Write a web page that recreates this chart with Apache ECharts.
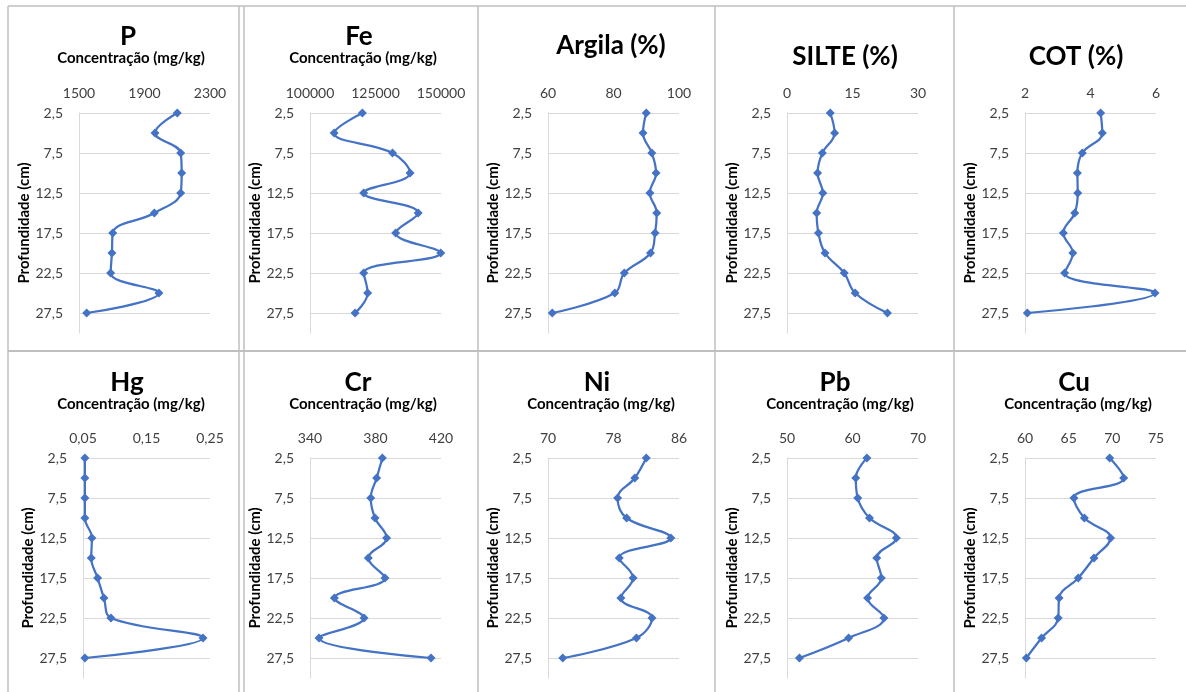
<!DOCTYPE html>
<html>
<head>
<meta charset="utf-8">
<script src="https://cdn.jsdelivr.net/npm/echarts@6/dist/echarts.min.js"></script>
<style>
html,body{margin:0;padding:0;background:#fff;}
#chart{width:1186px;height:692px;}
</style>
</head>
<body>
<div id="chart"></div>
<script>
// ---- data ----
const depths = [2.5, 5, 7.5, 10, 12.5, 15, 17.5, 20, 22.5, 25, 27.5];
const depthTicks = ['2,5', '7,5', '12,5', '17,5', '22,5', '27,5'];

const panelTitles = ['P', 'Fe', 'Argila (%)', 'SILTE (%)', 'COT (%)', 'Hg', 'Cr', 'Ni', 'Pb', 'Cu'];
const panelSubtitles = ['Concentração (mg/kg)', 'Concentração (mg/kg)', '', '', '',
  'Concentração (mg/kg)', 'Concentração (mg/kg)', 'Concentração (mg/kg)', 'Concentração (mg/kg)', 'Concentração (mg/kg)'];

const P      = [2100, 1964, 2121, 2127, 2121, 1960, 1706, 1701, 1693, 1988, 1547];
const Fe     = [120000, 109200, 131500, 138200, 120500, 141300, 132700, 149900, 120500, 122000, 117200];
const Argila = [90, 89, 91.7, 93, 91.1, 93.2, 92.7, 91.3, 83.3, 80.4, 61.3];
const Silte  = [9.9, 10.9, 8.1, 7.0, 8.2, 6.8, 7.2, 8.7, 13.1, 15.6, 23.0];
const COT    = [4.31, 4.36, 3.75, 3.6, 3.61, 3.52, 3.17, 3.46, 3.21, 5.97, 2.07];
const Hg     = [0.053, 0.053, 0.053, 0.053, 0.064, 0.063, 0.073, 0.083, 0.094, 0.239, 0.053];
const Cr     = [384.2, 380.7, 377.1, 379.7, 386.8, 375.6, 385.8, 354.9, 373, 345.5, 413.9];
const Ni     = [82, 80.6, 78.5, 79.6, 85.0, 78.7, 80.4, 78.9, 82.7, 80.8, 71.8];
const Pb     = [62.2, 60.5, 60.8, 62.6, 66.7, 63.7, 64.4, 62.3, 64.8, 59.4, 51.9];
const Cu     = [69.7, 71.3, 65.6, 66.8, 69.8, 67.9, 66.1, 63.9, 63.8, 61.9, 60.15];

const seriesValues = [P, Fe, Argila, Silte, COT, Hg, Cr, Ni, Pb, Cu];

// x-axis scales (tick labels)
const xMins      = [1500, 100000, 60, 0, 2, 0.05, 340, 70, 50, 60];
const xMaxs      = [2300, 150000, 100, 30, 6, 0.25, 420, 86, 70, 75];
const xIntervals = [400, 25000, 20, 15, 2, 0.1, 40, 8, 10, 5];

// ---- layout ----
const plotLeftsTop = [79, 310, 548, 787, 1025];
const plotLeftsBot = [83, 310, 548, 787, 1025];
const plotRight = [210, 441, 679, 918, 1156];
const titleCX = [128, 359, 611, 845, 1076, 127, 358, 597, 835, 1074];
const subCX = [131, 363, 0, 0, 0, 131, 363, 601, 840, 1078];

const FONT = 'Lato, "Open Sans", sans-serif';
const BLUE = '#4472C4';
const GRID = '#d9d9d9';

const grids = [], xAxes = [], yAxes = [], series = [], graphics = [];

function fmt(v) {
  const r = Math.round(v * 1000) / 1000;
  return String(r).replace('.', ',');
}

for (let i = 0; i < 10; i++) {
  const row = Math.floor(i / 5), col = i % 5;
  const left = row === 0 ? plotLeftsTop[col] : plotLeftsBot[col];
  const top = row === 0 ? 113 : 458;
  grids.push({ left: left, top: top, width: plotRight[col] - left, height: 220 });
  xAxes.push({
    type: 'value', gridIndex: i, position: 'top',
    min: xMins[i], max: xMaxs[i], interval: xIntervals[i],
    axisLine: { show: false }, axisTick: { show: false },
    splitLine: { show: false },
    axisLabel: { margin: 13, color: '#404040', fontFamily: FONT, fontSize: 14, formatter: fmt }
  });
  yAxes.push({
    type: 'value', gridIndex: i, inverse: true,
    min: 2.5, max: 30, interval: 5,
    name: 'Profundidade (cm)', nameLocation: 'middle', nameRotate: 90, nameGap: 40,
    nameTextStyle: { fontFamily: FONT, fontSize: 15, fontWeight: 'bold', color: '#000' },
    axisLine: { show: true, lineStyle: { color: GRID, width: 1 } },
    axisTick: { show: false },
    splitLine: { show: true, showMaxLine: false, lineStyle: { color: GRID, width: 1 } },
    axisLabel: { margin: 16, color: '#404040', fontFamily: FONT, fontSize: 14, showMaxLabel: false, formatter: fmt }
  });
  series.push({
    type: 'line', xAxisIndex: i, yAxisIndex: i,
    data: seriesValues[i].map((v, j) => [v, depths[j]]),
    smooth: 0.4, symbol: 'diamond', symbolSize: 9,
    itemStyle: { color: BLUE }, lineStyle: { color: BLUE, width: 2.25 },
    clip: false, animation: false
  });

  const isPct = panelSubtitles[i] === '';
  const ty = row === 0 ? (i === 2 ? 46 : (isPct ? 57 : 37)) : 383;
  graphics.push({
    type: 'text', x: titleCX[i], y: ty,
    style: { text: panelTitles[i], textAlign: 'center', textVerticalAlign: 'middle',
      font: 'bold 26px ' + FONT, fill: '#000' }
  });
  if (!isPct) {
    graphics.push({
      type: 'text', x: subCX[i], y: row === 0 ? 58 : 404,
      style: { text: panelSubtitles[i], textAlign: 'center', textVerticalAlign: 'middle',
        font: 'bold 15px ' + FONT, fill: '#000' }
    });
  }
}

// cell borders
const BORDER = '#bfbfbf';
function hline(y, w) { graphics.push({ type: 'line', shape: { x1: 8, y1: y, x2: 1186, y2: y }, style: { stroke: BORDER, lineWidth: w } }); }
function vline(x) { graphics.push({ type: 'line', shape: { x1: x, y1: 6, x2: x, y2: 692 }, style: { stroke: BORDER, lineWidth: 1.5 } }); }
hline(6, 1.5); hline(351, 2);
[8, 239, 244, 478, 715, 954].forEach(vline);

const chart = echarts.init(document.getElementById('chart'), null, { renderer: 'canvas' });
chart.setOption({
  animation: false,
  backgroundColor: '#fff',
  grid: grids, xAxis: xAxes, yAxis: yAxes, series: series,
  graphic: graphics
});
</script>
</body>
</html>
